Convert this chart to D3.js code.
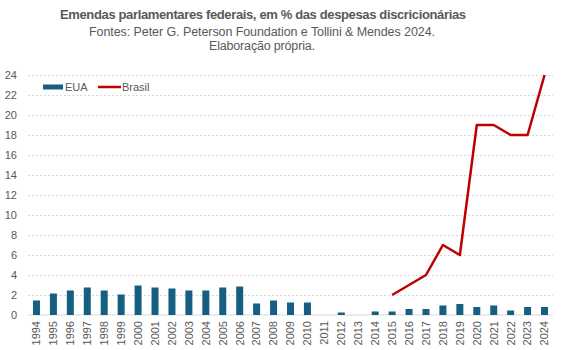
<!DOCTYPE html>
<html>
<head>
    <meta charset="utf-8">
    <script src="https://cdn.jsdelivr.net/npm/d3@7"></script>
    <style>
        body { margin: 0; background: #fff; }
        .chart text { font-family: "Liberation Sans", Arial, sans-serif; fill: #595959; }
        .grid line { stroke: #d9d9d9; stroke-dasharray: 2,2; }
        .grid path { display: none; }
        .axis path, .axis line { display: none; }
    </style>
</head>
<body>

<svg class="chart"></svg>

<script type="text/javascript">
    var years = [1994, 1995, 1996, 1997, 1998, 1999, 2000, 2001, 2002, 2003, 2004, 2005, 2006, 2007, 2008,
        2009, 2010, 2011, 2012, 2013, 2014, 2015, 2016, 2017, 2018, 2019, 2020, 2021, 2022, 2023, 2024];
    var eua = [1.45, 2.15, 2.45, 2.75, 2.45, 2.05, 2.95, 2.75, 2.65, 2.45, 2.45, 2.75, 2.85, 1.15, 1.45,
        1.25, 1.25, 0, 0.25, 0, 0.35, 0.35, 0.6, 0.6, 0.95, 1.1, 0.8, 0.95, 0.45, 0.8, 0.8];
    var brasilYears = [2015, 2016, 2017, 2018, 2019, 2020, 2021, 2022, 2023, 2024];
    var brasil = [2, 3, 4, 7, 6, 19, 19, 18, 18, 24];
    var yTicks = [0, 2, 4, 6, 8, 10, 12, 14, 16, 18, 20, 22, 24];

    var width = 561;
    var height = 350;
    var plotLeft = 28, plotRight = 553, plotTop = 75, plotBottom = 315;
    var barWidth = 7;

    var chart = d3.select(".chart")
        .attr("width", width)
        .attr("height", height);

    var scaleX = d3.scaleBand()
        .domain(years)
        .range([plotLeft, plotRight]);

    var scaleY = d3.scaleLinear()
        .domain([0, 24])
        .range([plotBottom, plotTop]);

    // gridlines
    chart.append("g")
        .attr("class", "grid")
        .attr("transform", "translate(" + plotLeft + ",0)")
        .call(d3.axisRight(scaleY).tickValues(yTicks.slice(1)).tickSize(plotRight - plotLeft).tickFormat(""));

    // baseline
    chart.append("line")
        .attr("x1", plotLeft).attr("x2", plotRight)
        .attr("y1", scaleY(0)).attr("y2", scaleY(0))
        .attr("stroke", "#d9d9d9").attr("stroke-width", 1);

    // bars
    chart.append("g")
        .selectAll("rect")
        .data(years)
        .enter()
        .append("rect")
        .attr("x", function (d) { return scaleX(d) + scaleX.bandwidth() / 2 - barWidth / 2; })
        .attr("y", function (d, i) { return scaleY(eua[i]); })
        .attr("width", barWidth)
        .attr("height", function (d, i) { return scaleY(0) - scaleY(eua[i]); })
        .attr("fill", "#175f80");

    // line
    var line = d3.line()
        .x(function (d, i) { return scaleX(brasilYears[i]) + scaleX.bandwidth() / 2; })
        .y(function (d) { return scaleY(d); });

    chart.append("path")
        .datum(brasil)
        .attr("d", line)
        .attr("fill", "none")
        .attr("stroke", "#c00000")
        .attr("stroke-width", 2.5)
        .attr("stroke-linejoin", "round");

    // Y axis
    chart.append("g")
        .attr("class", "axis")
        .attr("transform", "translate(" + plotLeft + ",0)")
        .call(d3.axisLeft(scaleY).tickValues(yTicks).tickSize(0).tickPadding(11))
        .selectAll("text")
        .style("font-size", "11px");

    // X axis
    chart.append("g")
        .attr("class", "axis")
        .attr("transform", "translate(0," + plotBottom + ")")
        .call(d3.axisBottom(scaleX).tickSize(0))
        .selectAll("text")
        .style("font-size", "11px")
        .attr("text-anchor", "end")
        .attr("transform", "rotate(-90)")
        .attr("x", -6)
        .attr("y", 0)
        .attr("dy", "0.35em");

    // legend
    var legend = chart.append("g");
    legend.append("rect")
        .attr("x", 43).attr("y", 84.5).attr("width", 20).attr("height", 5)
        .attr("fill", "#175f80");
    legend.append("text")
        .attr("x", 65).attr("y", 91)
        .style("font-size", "11px")
        .text("EUA");
    legend.append("line")
        .attr("x1", 98).attr("x2", 121).attr("y1", 87).attr("y2", 87)
        .attr("stroke", "#c00000").attr("stroke-width", 2.5);
    legend.append("text")
        .attr("x", 122).attr("y", 91)
        .style("font-size", "11px")
        .text("Brasil");

    // titles
    chart.append("text")
        .attr("x", 263).attr("y", 19)
        .attr("text-anchor", "middle")
        .attr("textLength", 406)
        .style("font-size", "13px")
        .style("font-weight", "bold")
        .text("Emendas parlamentares federais, em % das despesas discricionárias");
    chart.append("text")
        .attr("x", 262).attr("y", 36)
        .attr("text-anchor", "middle")
        .attr("textLength", 346)
        .style("font-size", "12.5px")
        .text("Fontes: Peter G. Peterson Foundation e Tollini & Mendes 2024.");
    chart.append("text")
        .attr("x", 262).attr("y", 50)
        .attr("text-anchor", "middle")
        .attr("textLength", 106)
        .style("font-size", "12.5px")
        .text("Elaboração própria.");
</script>

</body>
</html>
